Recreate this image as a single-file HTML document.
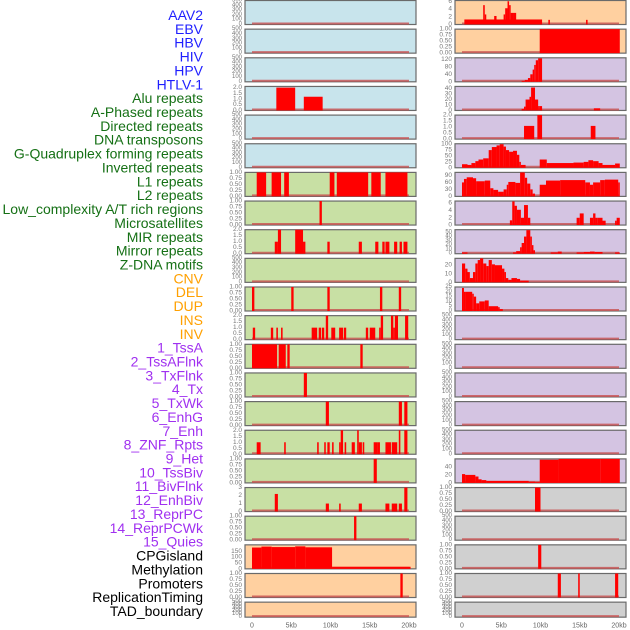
<!DOCTYPE html>
<html><head><meta charset="utf-8"><style>
html,body{margin:0;padding:0;background:#fff;width:630px;height:630px;overflow:hidden}
svg{display:block;font-family:"Liberation Sans",sans-serif}
</style></head><body>
<svg id="chart" width="630" height="630" viewBox="0 0 630 630" xmlns="http://www.w3.org/2000/svg"></svg>
<script>
// ---- data ----
const trackLabels = ["AAV2","EBV","HBV","HIV","HPV","HTLV-1","Alu repeats","A-Phased repeats","Directed repeats","DNA transposons","G-Quadruplex forming repeats","Inverted repeats","L1 repeats","L2 repeats","Low_complexity A/T rich regions","Microsatellites","MIR repeats","Mirror repeats","Z-DNA motifs","CNV","DEL","DUP","INS","INV","1_TssA","2_TssAFlnk","3_TxFlnk","4_Tx","5_TxWk","6_EnhG","7_Enh","8_ZNF_Rpts","9_Het","10_TssBiv","11_BivFlnk","12_EnhBiv","13_ReprPC","14_ReprPCWk","15_Quies","CPGisland","Methylation","Promoters","ReplicationTiming","TAD_boundary"];
const labelColors = ["#1f1fff","#1f1fff","#1f1fff","#1f1fff","#1f1fff","#1f1fff","#157015","#157015","#157015","#157015","#157015","#157015","#157015","#157015","#157015","#157015","#157015","#157015","#157015","#ffa000","#ffa000","#ffa000","#ffa000","#ffa000","#a030f0","#a030f0","#a030f0","#a030f0","#a030f0","#a030f0","#a030f0","#a030f0","#a030f0","#a030f0","#a030f0","#a030f0","#a030f0","#a030f0","#a030f0","#000","#000","#000","#000","#000"];
const xTicks = [0,5,10,15,20];
const xTickLabels = ["0","5kb","10kb","15kb","20kb"];

// left column panels: [bg, ymax, ticks, segments [startKb,endKb,value]]
const emptyTicks = [0,100,200,300,400,500];
const unitTicks = [0,0.25,0.5,0.75,1.0];
const L0 = [], L1 = [], L2 = [], L4 = [], L5 = [], L9 = [], L21 = [];
const L3 = [[3.1,5.5,2.0],[6.6,9.0,1.2]];
const L6 = [[0.6,1.8,1],[2.5,3.7,1],[4.1,4.7,1],[9.9,10.5,1],[10.8,14.8,1],[15.2,16.4,1],[17.0,19.8,1]];
const L7 = [[8.6,8.9,1]];
const L8 = [[2.9,3.3,1],[3.3,3.7,2],[5.5,6.5,2],[6.5,6.8,1],[9.6,9.9,1],[13.6,14.0,1],[15.7,16.1,1],[16.6,16.9,1],[17.0,17.5,1],[18.1,18.5,1],[18.8,19.1,1],[19.3,19.8,1]];
const L10 = [[0.0,0.3,1],[5.0,5.3,1],[9.6,9.9,1],[16.3,16.6,1],[18.7,19.0,1]];
const L11 = [[0.1,0.4,1],[2.4,2.7,1],[3.1,3.3,1],[3.7,3.9,1],[7.6,8.3,1],[8.5,8.8,1],[8.9,9.2,1],[9.4,9.7,2],[10.1,10.6,1],[11.1,11.6,1],[11.7,12.0,1],[14.5,14.8,1],[15.0,15.7,1],[16.2,16.4,1],[16.4,16.7,2],[17.7,18.0,2],[18.0,18.2,1],[18.2,18.6,2],[19.5,19.9,2]];
const L12 = [[0,3.2,1],[3.4,4.3,1],[4.5,4.8,1],[13.8,14.1,1]];
const L13 = [[6.6,7.0,1]];
const L14 = [[9.4,9.8,1],[18.7,19.1,1],[19.4,19.8,1]];
const L15 = [[0.6,1.1,1],[4.1,4.3,1],[8.3,8.5,1],[9.2,9.4,1],[9.6,9.9,1],[10.2,10.4,1],[11.1,11.3,1],[11.3,11.6,2],[11.8,12.0,1],[12.7,13.1,1],[13.4,13.6,2],[13.6,14.0,1],[14.1,14.3,1],[15.5,16.0,1],[16.0,16.3,1],[17.0,17.7,1],[17.8,18.5,1],[18.7,18.9,2],[19.4,19.8,2]];
const L16 = [[15.5,15.9,1]];
const L17 = [[2.9,3.3,2.2],[9.4,9.8,1],[11.1,11.3,1],[13.6,14.0,1],[17.0,17.5,1],[17.8,18.5,1],[18.7,19.1,1],[19.4,19.8,3]];
const L18 = [[13.0,13.3,1]];
const L19 = [[0,1.2,182],[1.2,2.5,190],[2.5,5.5,186],[5.5,6.8,192],[6.8,10.2,184],[10.2,20.2,18]];
const L20 = [[18.9,19.2,1]];

// right column
const R0 = [[0.3,10.2,1.3],[2.7,2.9,5],[2.9,3.0,2.6],[4.1,4.4,2.2],[5.3,5.5,2.6],[5.5,5.8,4.2],[5.8,6.0,6],[6.0,6.2,5],[6.2,6.5,3],[6.5,6.9,3],[11.0,11.2,1.2],[15.8,16.0,1.2]];
const R1 = [[9.9,20.1,1]];
const R2 = [[7.6,8.0,5],[8.0,8.4,10],[8.4,8.7,20],[8.7,9.0,40],[9.0,9.2,65],[9.2,9.4,90],[9.4,9.7,115],[9.7,10.2,125]];
const R3 = [[7.6,7.9,3],[7.9,8.1,7],[8.1,8.6,20],[8.6,8.8,25],[8.8,9.3,42],[9.3,9.7,20],[9.7,9.9,8],[9.9,10.2,8],[16.8,17.6,4]];
const R4 = [[7.9,9.2,1.1],[9.6,10.2,2],[16.4,17.0,1.1]];
const R5 = [[0,0.7,15],[0.7,1.2,12],[1.2,1.7,20],[1.7,2.1,28],[2.1,2.7,35],[2.7,3.4,40],[3.4,3.8,75],[3.8,4.4,88],[4.4,4.8,95],[4.8,5.3,100],[5.3,5.6,90],[5.6,6.0,75],[6.0,6.5,68],[6.5,7.0,72],[7.0,7.3,55],[7.3,7.5,25],[7.5,8.1,12],[9.9,10.8,35],[10.8,14.2,20],[14.2,15.5,22],[15.5,16.1,25],[16.1,16.7,32],[16.7,17.4,28],[17.4,17.9,20],[17.9,19.5,12],[19.5,20.1,18]];
const R6 = [[0,0.25,60],[0.25,0.6,75],[0.6,1.4,82],[1.4,1.8,78],[1.8,2.9,65],[2.9,3.6,68],[3.6,4.0,35],[4.0,4.6,28],[4.6,5.3,20],[5.3,5.7,30],[5.7,5.9,50],[5.9,6.8,62],[6.8,7.4,58],[7.4,8.0,103],[8.0,8.3,80],[8.3,8.7,55],[8.7,9.0,30],[9.0,9.3,12],[9.9,10.7,50],[10.7,12.5,68],[12.5,15.7,70],[15.7,16.3,60],[16.3,16.7,50],[16.7,17.6,60],[17.6,18.2,70],[18.2,19.9,72],[19.9,20.1,60]];
const R7 = [[6.1,6.4,1.3],[6.4,6.7,6.5],[6.7,7.0,5.3],[7.0,7.5,4.2],[7.5,7.9,2],[7.9,8.4,5.5],[8.4,8.7,2],[14.6,15.0,2],[15.0,15.5,3.2],[16.3,16.7,2],[16.7,17.0,3.2],[17.0,17.3,2],[17.3,17.9,2],[17.9,18.3,1.2],[19.5,19.7,1.2],[19.7,20.1,2]];
const R8 = [[0,0.7,3],[6.5,6.9,3],[6.9,7.4,6],[7.4,7.6,15],[7.6,7.9,25],[7.9,8.2,40],[8.2,8.7,55],[8.7,8.9,40],[8.9,9.1,20],[9.1,9.3,8],[11.3,12.2,3],[12.2,12.7,5],[14.6,15.5,3],[15.5,16.3,4],[16.3,16.9,5],[16.9,17.9,4],[19.5,20.1,3]];
const R9 = [[0,0.4,22],[0.4,0.7,16],[0.7,1.0,12],[1.0,1.4,5],[1.4,1.7,12],[1.7,2.0,22],[2.0,2.3,26],[2.3,2.7,28],[2.7,3.1,22],[3.1,3.4,19],[3.4,3.8,26],[3.8,4.2,21],[4.2,5.1,20],[5.1,5.4,16],[5.4,5.6,12],[5.6,5.9,5],[5.9,6.3,3],[6.3,7.0,5],[7.0,7.4,4],[7.4,8.5,2]];
const R10 = [[0,0.25,24],[0.25,0.5,20],[0.5,1.3,20],[1.3,1.5,18],[1.5,1.8,15],[1.8,2.2,8],[2.2,2.9,10],[2.9,3.4,11],[3.4,4.6,5],[4.6,4.8,4],[4.8,5.2,2]];
const R11 = [], R12 = [], R13 = [], R14 = [], R15 = [], R18 = [], R21 = [];
const R16 = [[0,0.4,22],[0.4,1.7,20],[1.7,2.1,16],[2.1,2.5,9],[2.5,3.1,7],[3.1,8.5,5],[8.5,9.3,3],[9.3,9.9,2],[9.9,12.3,58],[12.3,17.6,60],[17.6,20.1,62]];
const R17 = [[9.3,10.0,1]];
const R19 = [[9.7,10.1,1]];
const R20 = [[12.2,12.6,1],[14.8,15.0,1],[19.5,19.9,1]];

const BLUE="#c8e4ec", GREEN="#c8e0a4", ORANGE="#ffd0a0", PURPLE="#d4c4e2", GRAY="#d0d0d0";
const leftPanels = [
 [BLUE,500,emptyTicks,L0],[BLUE,500,emptyTicks,L1],[BLUE,500,emptyTicks,L2],[BLUE,2.1,[0,0.5,1,1.5,2],L3],[BLUE,500,emptyTicks,L4],[BLUE,500,emptyTicks,L5],
 [GREEN,1,unitTicks,L6],[GREEN,1,unitTicks,L7],[GREEN,2,[0,0.5,1,1.5,2],L8],[GREEN,500,emptyTicks,L9],[GREEN,1,unitTicks,L10],[GREEN,2,[0,0.5,1,1.5,2],L11],
 [GREEN,1,unitTicks,L12],[GREEN,1,unitTicks,L13],[GREEN,1,unitTicks,L14],[GREEN,2,[0,0.5,1,1.5,2],L15],[GREEN,1,unitTicks,L16],[GREEN,3,[0,1,2,3],L17],
 [GREEN,1,unitTicks,L18],[ORANGE,205,[0,50,100,150],L19],[ORANGE,1,unitTicks,L20],[ORANGE,500,emptyTicks,L21]];
const rightPanels = [
 [ORANGE,6.2,[0,2,4,6],R0],[ORANGE,1,unitTicks,R1],[PURPLE,128,[0,40,80,120],R2],[PURPLE,44,[0,10,20,30,40],R3],[PURPLE,2,[0,0.5,1,1.5,2],R4],
 [PURPLE,102,[0,25,50,75,100],R5],[PURPLE,103,[0,30,60,90],R6],[PURPLE,6.6,[0,2,4,6],R7],[PURPLE,56,[0,10,20,30,40,50],R8],[PURPLE,28,[0,10,20],R9],
 [PURPLE,25,[0,5,10,15,20,25],R10],[PURPLE,500,emptyTicks,R11],[PURPLE,500,emptyTicks,R12],[PURPLE,500,emptyTicks,R13],[PURPLE,500,emptyTicks,R14],
 [PURPLE,500,emptyTicks,R15],[PURPLE,60,[0,20,40],R16],[GRAY,1,unitTicks,R17],[GRAY,500,emptyTicks,R18],[GRAY,1,unitTicks,R19],[GRAY,1,unitTicks,R20],[GRAY,500,emptyTicks,R21]];

// ---- drawing ----
const NS="http://www.w3.org/2000/svg";
const svg=document.getElementById('chart');
function mk(tag,attrs,parent){const e=document.createElementNS(NS,tag);for(const k in attrs)e.setAttribute(k,attrs[k]);(parent||svg).appendChild(e);return e;}
const PX_PER_KB=7.85;
function xScale(kb,col){return (col===0?252:462)+kb*PX_PER_KB;}
function rowTop(i){return 0.5+i*28.65;}
function rowH(i){return i===21?15:24;}

trackLabels.forEach((t,i)=>{
  const e=mk('text',{x:203,y:15+i*13.86,'text-anchor':'end','dominant-baseline':'central','font-size':'14',fill:labelColors[i]});
  e.textContent=t;
  
  
});

function fmt(v,ymax,ticks){
  if(ymax===1) return v.toFixed(2);
  if(ticks.some(t=>t%1!==0)) return v.toFixed(1);
  if(ymax<=3.5 && ticks.length<=4) return String(v);
  return String(v);
}

[leftPanels,rightPanels].forEach((panels,col)=>{
  panels.forEach((p,i)=>{
    const [bg,ymax,ticks,segs]=p;
    const top=rowTop(i),h=rowH(i);
    const x0=col===0?245:455,w=171;
    const g=mk('g',{});
    
    
    const r=mk('rect',{x:x0,y:top,width:w,height:h,fill:bg,stroke:'#6a6a6a','stroke-width':1.2},g);
    
    
    const yScale=v=>top+h-(v/ymax)*h;
    // baseline
    const bl=mk('line',{x1:xScale(0,col),x2:xScale(20,col),y1:top+h-1,y2:top+h-1,stroke:'#c85050','stroke-width':2,opacity:0.8},g);
    
    
    segs.forEach(s=>{
      const xa=xScale(s[0],col),xb=xScale(s[1],col);
      const ya=Math.max(top,yScale(s[2]));
      const b=mk('rect',{x:xa,y:ya,width:Math.max(1.5,xb-xa),height:top+h-ya,fill:'#ff0000'},g);
      
      
    });
    const small=ticks.length>5;
    ticks.forEach(t=>{
      let ty=yScale(t);
      const e=mk('text',{x:x0-3,y:ty,'text-anchor':'end','dominant-baseline':'central','font-size':small?'6':'6.5',fill:'#777'},g);
      e.textContent=fmt(t,ymax,ticks);
      
      
    });
  });
  xTicks.forEach((t,k)=>{
    const e=mk('text',{x:xScale(t,col),y:626,'text-anchor':'middle','dominant-baseline':'central','font-size':'7',fill:'#666'});
    e.textContent=xTickLabels[k];
    
    
  });
});
</script>
</body></html>
